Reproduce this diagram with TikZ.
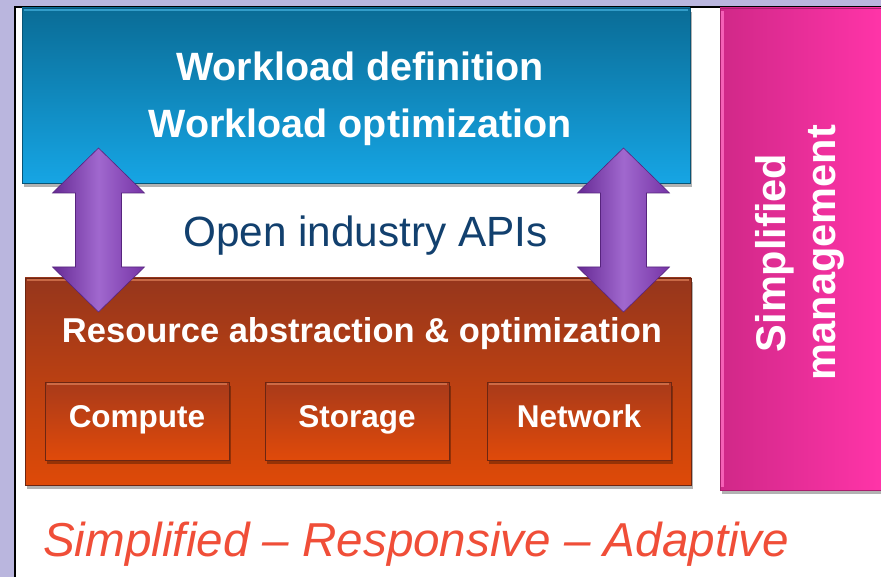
\documentclass[tikz,border=0pt]{standalone}
\usepackage{fontspec}
\setmainfont{Liberation Sans}
\usetikzlibrary{shadows}
\definecolor{lav}{RGB}{186,182,222}
\definecolor{bluetop}{RGB}{10,108,150}
\definecolor{bluebot}{RGB}{22,165,228}
\definecolor{blueedge}{RGB}{8,84,118}
\definecolor{bluehi}{RGB}{60,170,215}
\definecolor{orgtop}{RGB}{150,54,28}
\definecolor{orgbot}{RGB}{222,74,8}
\definecolor{subtop}{RGB}{168,58,26}
\definecolor{subbot}{RGB}{224,74,10}
\definecolor{orgedge}{RGB}{108,38,18}
\definecolor{orghi}{RGB}{214,118,80}
\definecolor{pinkl}{RGB}{208,40,136}
\definecolor{pinkr}{RGB}{255,52,168}
\definecolor{pinkedge}{RGB}{170,30,110}
\definecolor{pinkhi}{RGB}{255,110,195}
\definecolor{apiblue}{RGB}{18,64,110}
\definecolor{tagred}{RGB}{240,78,56}
\definecolor{purpd}{RGB}{102,42,148}
\definecolor{purpm}{RGB}{160,104,206}
\definecolor{purpe}{RGB}{118,52,166}
\begin{document}
\begin{tikzpicture}[x=1pt,y=-1pt,
  boxbase/.style={anchor=north west, inner sep=0pt, outer sep=0pt,
    drop shadow={shadow xshift=2pt, shadow yshift=-4pt, opacity=0.3, fill=black}},
  bluebox/.style={boxbase, top color=bluetop, bottom color=bluebot, draw=blueedge, line width=0.8pt},
  orgbox/.style={boxbase, top color=orgtop, bottom color=orgbot, draw=orgedge, line width=0.8pt},
  subbox/.style={boxbase, top color=subtop, bottom color=subbot, draw=orgedge, line width=1pt,
    minimum width=184pt, minimum height=78pt, text=white,
    font=\fontsize{31.5}{38}\selectfont\bfseries, text height=22.5pt, text depth=10.5pt},
  pinkbox/.style={boxbase, left color=pinkl, right color=pinkr, draw=pinkedge, line width=0.8pt},
  whitetext/.style={text=white, inner sep=0pt, align=center},
  hiline/.style={line width=2pt, opacity=0.8},
  duarrow/.pic={
    \shade[left color=purpd, right color=purpe, middle color=purpm, draw=purpd!85!black, line width=0.6pt]
      (0,-82) -- (46,-37) -- (23,-37) -- (23,37) -- (46,37) -- (0,82)
      -- (-46,37) -- (-23,37) -- (-23,-37) -- (-46,-37) -- cycle;
  }
]
\useasboundingbox (0,0) rectangle (881,577);
% background and panel
\fill[lav] (0,0) rectangle (881,577);
\fill[white] (15,7) rectangle (881,577);
\draw[black, line width=1.6pt] (15,577) -- (15,7) -- (881,7);

% top workload box
\node[bluebox, minimum width=668pt, minimum height=175pt] (wl) at (22,8) {};
\draw[hiline, bluehi] ([shift={(2pt,-2pt)}]wl.north west) -- ([shift={(-2pt,-2pt)}]wl.north east);
\node[whitetext, font=\fontsize{39.5}{57}\selectfont\bfseries] (wltext) at (360,99)
  {Workload definition\\Workload optimization};

% resource box
\node[orgbox, minimum width=666pt, minimum height=207pt] (res) at (25,278) {};
\draw[hiline, orghi] ([shift={(2pt,-2pt)}]res.north west) -- ([shift={(-2pt,-2pt)}]res.north east);
\node[whitetext, anchor=base, font=\fontsize{34.5}{40}\selectfont\bfseries] (restext) at (362,343)
  {Resource abstraction \& optimization};
\node[subbox] (compute) at (45,382) {Compute};
\node[subbox] (storage) at (265,382) {Storage};
\node[subbox] (network) at (487,382) {Network};
\foreach \b in {compute,storage,network}{
  \draw[hiline, orghi] ([shift={(2pt,-2pt)}]\b.north west) -- ([shift={(-2pt,-2pt)}]\b.north east);
}

% management box
\node[pinkbox, minimum width=161pt, minimum height=482pt] (mgmt) at (720,8) {};
\draw[hiline, pinkhi, line width=3pt] ([shift={(2.5pt,-3pt)}]mgmt.north west) -- ([shift={(2.5pt,3pt)}]mgmt.south west);
\node[whitetext, rotate=90, font=\fontsize{41.5}{50}\selectfont\bfseries] (mgmttext) at (799.5,253)
  {Simplified\\management};

% API label
\node[anchor=base, inner sep=0pt, text=apiblue, font=\fontsize{42.3}{50}\selectfont] (api) at (365.5,247)
  {Open industry APIs};

% double arrows
\pic (larrow) at (98.5,230) {duarrow};
\pic (rarrow) at (623.5,230) {duarrow};

% tagline
\node[anchor=base west, inner sep=0pt, text=tagred, font=\fontsize{47.6}{56}\selectfont\itshape] (tag) at (43,556)
  {Simplified – Responsive – Adaptive};
\end{tikzpicture}
\end{document}
